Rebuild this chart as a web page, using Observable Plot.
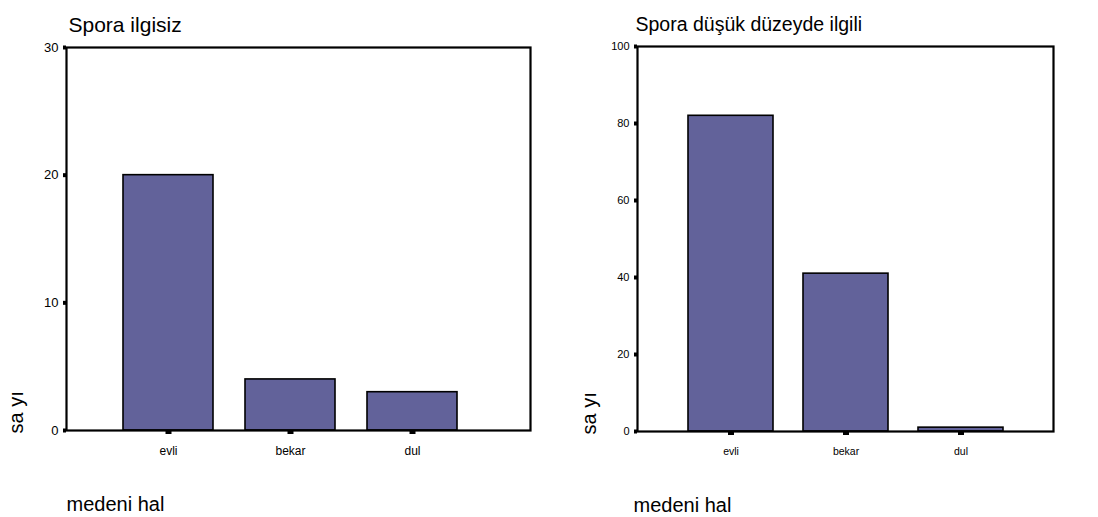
<!DOCTYPE html>
<html>
<head>
<meta charset="utf-8">
<script src="https://cdn.jsdelivr.net/npm/d3@7"></script>
<script src="https://cdn.jsdelivr.net/npm/@observablehq/plot@0.6"></script>
<style>
  html, body { margin: 0; padding: 0; background: #fff; color: #000; }
  #wrap { display: flex; width: 1098px; height: 517px; }
  svg { font-family: "Liberation Sans", Arial, sans-serif; }
</style>
</head>
<body>
<div id="wrap"></div>
<script>
// Categories (medeni hal)
const categories = ["evli", "bekar", "dul"];
// Counts (sayı) per panel
const countsIlgisiz = [20, 4, 3];
const countsDusuk = [82, 41, 1];
// Axis ticks
const ticksIlgisiz = [0, 10, 20, 30];
const ticksDusuk = [0, 20, 40, 60, 80, 100];
// Texts
const titleIlgisiz = "Spora ilgisiz";
const titleDusuk = "Spora düşük düzeyde ilgili";
const xLabel = "medeni hal";
const yLabel = "sa yı";

const barColor = "#62629a";

function panel(opts) {
  const data = categories.map((c, i) => ({cat: c, n: opts.values[i]}));
  return Plot.plot({
    width: opts.width,
    height: 517,
    marginLeft: opts.ml,
    marginRight: opts.mr,
    marginTop: opts.mt,
    marginBottom: opts.mb,
    style: {fontFamily: "'Liberation Sans', Arial, sans-serif", background: "#fff", color: "#000"},
    x: {domain: categories, range: opts.xRange, paddingInner: 0.26, paddingOuter: 0.13, align: 0.5},
    y: {domain: opts.yDomain},
    marks: [
      Plot.barY(data, {x: "cat", y: "n", fill: barColor, stroke: "#000", strokeWidth: 1.6}),
      Plot.frame({stroke: "#000", strokeWidth: 2.2}),
      Plot.axisY({ticks: opts.ticks, tickSize: 3, strokeWidth: 4, tickPadding: 5,
                  fontSize: opts.tickFont, label: null, tickFormat: d => d}),
      Plot.axisX({tickSize: 4, strokeWidth: 6, tickPadding: 12, fontSize: opts.catFont, label: null}),
      Plot.text([opts.title], {frameAnchor: "top-left", text: d => d, textAnchor: "start",
                  lineAnchor: "bottom", dx: opts.titleDx, dy: -16, fontSize: opts.titleFont, fill: "#000"}),
      Plot.text([xLabel], {frameAnchor: "bottom-left", text: d => d, textAnchor: "start",
                  lineAnchor: "middle", dx: opts.titleDx - 2, dy: 74, fontSize: 20, fill: "#000"}),
      Plot.text([yLabel], {frameAnchor: "bottom-left", text: d => d, textAnchor: "start",
                  lineAnchor: "middle", rotate: -90, dx: opts.yLabDx, dy: 3, fontSize: 20, fill: "#000"})
    ]
  });
}

const wrap = document.getElementById("wrap");
wrap.appendChild(panel({
  width: 549, ml: 66, mr: 19, mt: 47, mb: 87,
  xRange: [106, 474], yDomain: [0, 30], ticks: ticksIlgisiz,
  values: countsIlgisiz, title: titleIlgisiz, titleDx: 2, titleFont: 21,
  tickFont: 13, catFont: 12, yLabDx: -50
}));
wrap.appendChild(panel({
  width: 549, ml: 88, mr: 45, mt: 46, mb: 86,
  xRange: [124.5, 469.5], yDomain: [0, 100], ticks: ticksDusuk,
  values: countsDusuk, title: titleDusuk, titleDx: -2, titleFont: 19.5,
  tickFont: 11, catFont: 10.5, yLabDx: -48
}));
</script>
</body>
</html>
